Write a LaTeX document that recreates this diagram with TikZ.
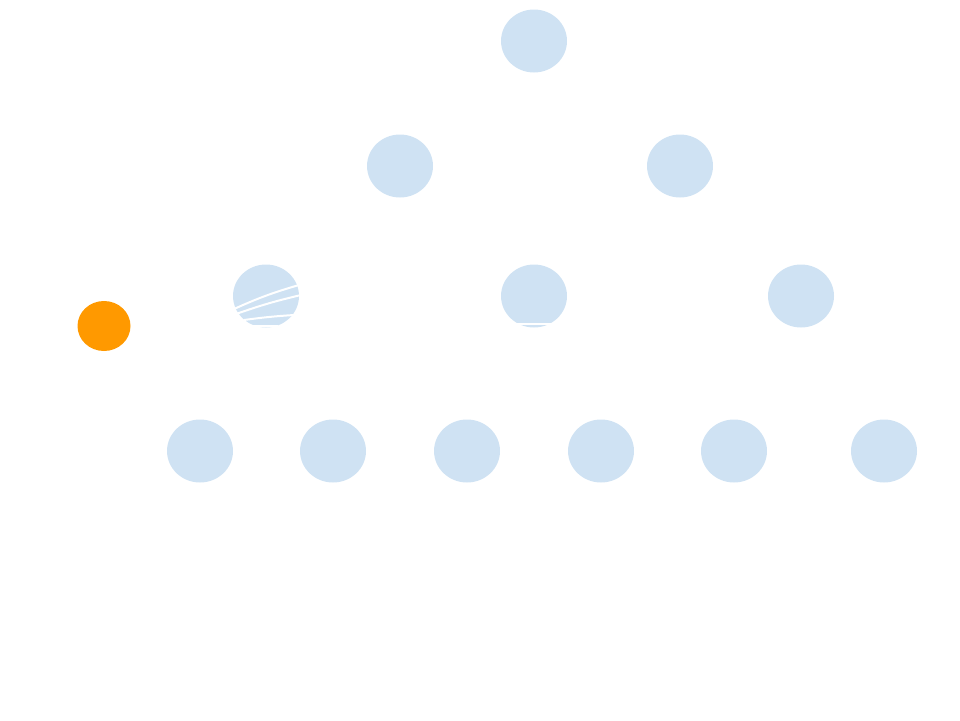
\documentclass[tikz,border=0pt]{standalone}
\definecolor{nodeblue}{RGB}{207, 226, 243}
\definecolor{leaforange}{RGB}{255, 153, 0}
\usepackage{tikz}
\usetikzlibrary{shapes.geometric, positioning, calc}

\begin{document}
\begin{tikzpicture}[x=1pt, y=-1pt,
  treenode/.style={ellipse, fill=nodeblue, draw=none, minimum width=66pt, minimum height=63pt, inner sep=0pt},
  hotnode/.style={ellipse, fill=leaforange, draw=none, minimum width=53pt, minimum height=50pt, inner sep=0pt},
  whiteline/.style={draw=white, line width=2pt}]
  \useasboundingbox (0,0) rectangle (960,720);

  % Top of the tree
  \node[treenode] (root) at (534, 41) {};

  % Second level
  \node[treenode] (midL) at (400, 166) {};
  \node[treenode] (midR) at (680, 166) {};

  % Third level
  \node[treenode] (lowL) at (266, 296) {};
  \node[treenode] (lowM) at (534, 296) {};
  \node[treenode] (lowR) at (801, 296) {};

  % Bottom row
  \node[treenode] (leafA) at (200, 451) {};
  \node[treenode] (leafB) at (333, 451) {};
  \node[treenode] (leafC) at (467, 451) {};
  \node[treenode] (leafD) at (601, 451) {};
  \node[treenode] (leafE) at (734, 451) {};
  \node[treenode] (leafF) at (884, 451) {};

  % Highlighted node
  \node[hotnode] (hot) at (104, 326) {};

  % White strokes over the nodes
  \coordinate (sA1) at (234, 309);
  \coordinate (sA2) at (299, 285);
  \coordinate (sB1) at (236, 314);
  \coordinate (sB2) at (301, 295);
  \coordinate (sC1) at (244, 320);
  \coordinate (sC2) at (294, 315);
  \coordinate (sD1) at (252, 326);
  \coordinate (sD2) at (278, 326);
  \coordinate (sM1) at (512, 324);
  \coordinate (sM2) at (556, 324);

  \draw[whiteline] (sA1) to[bend left=4] (sA2);
  \draw[whiteline] (sB1) to[bend left=3] (sB2);
  \draw[whiteline] (sC1) to[bend left=2] (sC2);
  \draw[whiteline] (sD1) -- (sD2);
  \draw[whiteline] (sM1) -- (sM2);
\end{tikzpicture}
\end{document}
